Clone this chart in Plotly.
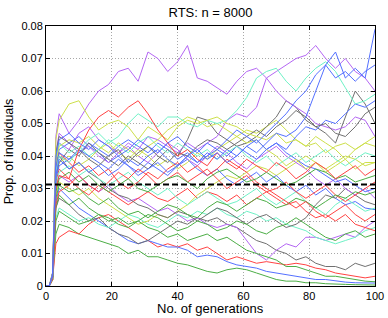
import plotly.graph_objects as go

# Generations sampled (x axis)
GENS = [0, 1, 2, 3] + list(range(4, 101, 3))

# Proportion of individuals per type
P1 = [0,0,0.003,0.046, 0.053,0.047,0.051,0.056,0.060,0.062,0.066,0.067,0.063,0.072,0.070,0.066,0.069,0.074,0.064,0.063,0.061,0.059,0.063,0.066,0.067,0.064,0.066,0.068,0.070,0.071,0.074,0.070,0.067,0.070,0.066,0.064,0.060]
P2 = [0,0,0.003,0.039, 0.044,0.042,0.047,0.049,0.045,0.043,0.041,0.044,0.042,0.046,0.045,0.043,0.041,0.044,0.042,0.044,0.046,0.051,0.053,0.052,0.055,0.064,0.060,0.057,0.055,0.053,0.050,0.049,0.048,0.049,0.052,0.051,0.046]
P3 = [0,0,0.002,0.030, 0.034,0.032,0.034,0.031,0.029,0.031,0.028,0.026,0.027,0.025,0.023,0.024,0.022,0.020,0.021,0.019,0.018,0.019,0.018,0.014,0.010,0.008,0.011,0.013,0.012,0.015,0.015,0.014,0.015,0.016,0.015,0.018,0.020]
P4 = [0,0,0.003,0.041, 0.047,0.044,0.041,0.043,0.040,0.038,0.041,0.043,0.040,0.038,0.041,0.044,0.042,0.039,0.037,0.040,0.043,0.041,0.038,0.036,0.039,0.041,0.043,0.040,0.038,0.036,0.033,0.031,0.033,0.030,0.028,0.030,0.027]
B1 = [0,0,0.003,0.034, 0.039,0.036,0.038,0.035,0.037,0.034,0.036,0.039,0.037,0.040,0.042,0.039,0.037,0.040,0.042,0.039,0.041,0.038,0.040,0.043,0.041,0.044,0.047,0.046,0.048,0.052,0.060,0.068,0.072,0.064,0.067,0.064,0.079]
B2 = [0,0,0.004,0.040, 0.045,0.047,0.044,0.042,0.045,0.043,0.040,0.042,0.045,0.043,0.041,0.044,0.046,0.043,0.041,0.044,0.042,0.045,0.048,0.046,0.044,0.047,0.050,0.053,0.057,0.060,0.065,0.068,0.064,0.066,0.063,0.066,0.068]
B3 = [0,0,0.003,0.036, 0.041,0.039,0.042,0.040,0.038,0.036,0.039,0.037,0.034,0.036,0.038,0.035,0.037,0.040,0.038,0.041,0.039,0.042,0.040,0.043,0.045,0.042,0.044,0.042,0.046,0.049,0.048,0.051,0.050,0.053,0.056,0.055,0.057]
B4 = [0,0,0.002,0.026, 0.030,0.027,0.024,0.022,0.020,0.018,0.016,0.014,0.013,0.014,0.013,0.012,0.012,0.011,0.009,0.0095,0.009,0.0075,0.0065,0.006,0.0055,0.0045,0.004,0.0035,0.003,0.0025,0.002,0.002,0.0015,0.0012,0.001,0.001,0.0009]
B5 = [0,0,0.003,0.037, 0.042,0.044,0.046,0.043,0.041,0.038,0.040,0.037,0.035,0.038,0.036,0.034,0.037,0.039,0.036,0.034,0.036,0.033,0.031,0.033,0.035,0.032,0.034,0.031,0.029,0.031,0.028,0.030,0.027,0.025,0.026,0.024,0.0235]
B6 = [0,0,0.003,0.033, 0.037,0.039,0.041,0.044,0.042,0.040,0.043,0.045,0.043,0.041,0.044,0.042,0.039,0.041,0.038,0.040,0.042,0.040,0.043,0.041,0.039,0.042,0.044,0.041,0.039,0.037,0.036,0.034,0.032,0.033,0.031,0.029,0.030]
A1 = [0,0,0.003,0.035, 0.040,0.038,0.042,0.045,0.047,0.044,0.046,0.050,0.053,0.051,0.049,0.052,0.052,0.050,0.049,0.051,0.050,0.051,0.054,0.058,0.064,0.066,0.067,0.063,0.060,0.064,0.067,0.069,0.066,0.061,0.056,0.057,0.059]
A2 = [0,0,0.002,0.021, 0.024,0.022,0.020,0.021,0.019,0.018,0.020,0.022,0.021,0.019,0.018,0.020,0.022,0.021,0.023,0.022,0.024,0.022,0.021,0.023,0.022,0.020,0.021,0.019,0.018,0.017,0.015,0.014,0.013,0.014,0.015,0.017,0.018]
A3 = [0,0,0.003,0.031, 0.035,0.037,0.034,0.036,0.033,0.031,0.033,0.035,0.032,0.030,0.028,0.030,0.027,0.025,0.027,0.029,0.027,0.025,0.026,0.028,0.030,0.027,0.025,0.027,0.029,0.026,0.024,0.022,0.025,0.027,0.025,0.023,0.024]
A4 = [0,0,0.004,0.039, 0.044,0.041,0.043,0.040,0.042,0.045,0.043,0.041,0.044,0.046,0.043,0.041,0.044,0.042,0.040,0.042,0.039,0.041,0.043,0.040,0.038,0.040,0.037,0.039,0.041,0.038,0.040,0.042,0.039,0.037,0.039,0.041,0.040]
R1 = [0,0,0.003,0.030, 0.034,0.033,0.042,0.048,0.052,0.054,0.052,0.055,0.057,0.053,0.048,0.044,0.040,0.042,0.039,0.037,0.041,0.038,0.036,0.039,0.037,0.035,0.038,0.036,0.033,0.035,0.038,0.036,0.033,0.035,0.037,0.034,0.036]
R2 = [0,0,0.002,0.013, 0.015,0.017,0.016,0.019,0.021,0.022,0.020,0.018,0.016,0.014,0.012,0.013,0.012,0.013,0.011,0.012,0.010,0.008,0.009,0.008,0.007,0.0075,0.007,0.0065,0.007,0.0065,0.0055,0.005,0.004,0.0035,0.003,0.0025,0.003]
R3 = [0,0,0.003,0.032, 0.036,0.033,0.030,0.028,0.031,0.029,0.027,0.025,0.027,0.029,0.027,0.026,0.028,0.030,0.027,0.029,0.028,0.026,0.028,0.025,0.027,0.029,0.027,0.025,0.026,0.023,0.021,0.022,0.020,0.022,0.019,0.018,0.017]
R4 = [0,0,0.002,0.025, 0.029,0.031,0.034,0.031,0.029,0.032,0.035,0.033,0.036,0.034,0.031,0.033,0.035,0.032,0.034,0.036,0.033,0.030,0.032,0.034,0.031,0.029,0.030,0.032,0.029,0.027,0.029,0.031,0.028,0.026,0.028,0.030,0.032]
R5 = [0,0,0.004,0.036, 0.041,0.038,0.035,0.037,0.034,0.036,0.032,0.030,0.032,0.035,0.033,0.036,0.038,0.035,0.037,0.034,0.036,0.039,0.037,0.035,0.032,0.030,0.028,0.026,0.024,0.026,0.023,0.021,0.023,0.025,0.022,0.020,0.022]
Y1 = [0,0,0.004,0.045, 0.051,0.056,0.057,0.052,0.048,0.050,0.051,0.049,0.045,0.049,0.047,0.045,0.049,0.051,0.050,0.051,0.052,0.050,0.049,0.047,0.046,0.045,0.047,0.044,0.045,0.043,0.044,0.041,0.043,0.044,0.042,0.044,0.043]
Y2 = [0,0,0.003,0.038, 0.043,0.045,0.044,0.046,0.043,0.041,0.044,0.042,0.040,0.043,0.045,0.048,0.050,0.052,0.051,0.049,0.050,0.048,0.046,0.044,0.045,0.042,0.040,0.037,0.039,0.036,0.038,0.035,0.037,0.039,0.036,0.038,0.038]
Y3 = [0,0,0.002,0.028, 0.032,0.030,0.028,0.030,0.027,0.025,0.023,0.021,0.019,0.020,0.022,0.021,0.023,0.025,0.028,0.030,0.032,0.034,0.033,0.035,0.037,0.036,0.034,0.036,0.038,0.040,0.038,0.036,0.038,0.040,0.039,0.037,0.038]
Y4 = [0,0,0.003,0.034, 0.038,0.040,0.037,0.039,0.042,0.044,0.041,0.039,0.042,0.040,0.037,0.039,0.036,0.038,0.041,0.039,0.042,0.044,0.046,0.048,0.047,0.049,0.051,0.048,0.045,0.043,0.046,0.044,0.042,0.039,0.042,0.044,0.046]
K1 = [0,0,0.003,0.034, 0.038,0.042,0.040,0.044,0.041,0.039,0.037,0.040,0.038,0.036,0.039,0.042,0.040,0.045,0.052,0.051,0.047,0.045,0.043,0.044,0.046,0.049,0.052,0.057,0.055,0.051,0.049,0.047,0.044,0.052,0.060,0.056,0.050]
K2 = [0,0,0.004,0.041, 0.046,0.044,0.042,0.039,0.037,0.040,0.042,0.038,0.041,0.043,0.040,0.038,0.041,0.040,0.043,0.045,0.044,0.042,0.044,0.046,0.048,0.046,0.049,0.051,0.054,0.052,0.049,0.050,0.047,0.046,0.049,0.053,0.055]
K3 = [0,0,0.002,0.024, 0.027,0.025,0.022,0.020,0.021,0.018,0.016,0.015,0.013,0.014,0.016,0.018,0.020,0.019,0.021,0.020,0.021,0.019,0.018,0.016,0.014,0.013,0.011,0.010,0.008,0.009,0.007,0.006,0.006,0.005,0.007,0.006,0.007]
K4 = [0,0,0.003,0.035, 0.040,0.036,0.038,0.035,0.033,0.030,0.028,0.027,0.025,0.024,0.022,0.021,0.023,0.022,0.020,0.022,0.024,0.023,0.021,0.019,0.021,0.022,0.020,0.018,0.019,0.021,0.025,0.028,0.027,0.030,0.028,0.026,0.025]
G1 = [0,0,0.002,0.016, 0.019,0.018,0.016,0.015,0.014,0.013,0.012,0.010,0.011,0.009,0.009,0.008,0.007,0.0065,0.0055,0.0045,0.004,0.005,0.0055,0.005,0.004,0.003,0.002,0.0015,0.0015,0.001,0.001,0.0007,0.0005,0.0005,0.0004,0.0003,0.0003]
G2 = [0,0,0.002,0.020, 0.023,0.021,0.019,0.020,0.022,0.021,0.019,0.018,0.020,0.018,0.017,0.015,0.016,0.014,0.015,0.016,0.014,0.015,0.013,0.011,0.010,0.009,0.008,0.006,0.006,0.005,0.004,0.003,0.003,0.0025,0.002,0.0015,0.0013]
G3 = [0,0,0.002,0.024, 0.028,0.025,0.027,0.024,0.022,0.020,0.021,0.019,0.020,0.022,0.021,0.019,0.017,0.018,0.020,0.019,0.017,0.018,0.020,0.019,0.017,0.016,0.018,0.019,0.021,0.019,0.017,0.015,0.014,0.016,0.017,0.015,0.016]
G4 = [0,0,0.003,0.027, 0.031,0.029,0.030,0.027,0.025,0.027,0.024,0.022,0.023,0.021,0.023,0.025,0.024,0.022,0.021,0.024,0.026,0.025,0.023,0.025,0.027,0.026,0.024,0.025,0.027,0.026,0.024,0.026,0.028,0.027,0.029,0.028,0.029]
G5 = [0,0,0.003,0.029, 0.033,0.035,0.032,0.034,0.031,0.029,0.031,0.033,0.030,0.029,0.031,0.033,0.034,0.032,0.030,0.033,0.035,0.036,0.034,0.032,0.033,0.035,0.033,0.031,0.032,0.034,0.036,0.035,0.033,0.034,0.032,0.033,0.034]

EQUAL_SHARE = 1 / 32  # 1/n types

XTICKS = [0, 20, 40, 60, 80, 100]
YTICKS = [0, 0.01, 0.02, 0.03, 0.04, 0.05, 0.06, 0.07, 0.08]
YTICK_TEXT = ["0", "0.01", "0.02", "0.03", "0.04", "0.05", "0.06", "0.07", "0.08"]

PURPLE = "#b466f4"
BLUE = "#5470ff"
RED = "#ff4343"
GREEN = "#4cae46"
GRAY = "#707070"
YELLOW = "#cde04a"
AQUA = "#6ef2c6"

SERIES = [
    (G1, GREEN), (R2, RED), (B4, BLUE), (K3, GRAY), (P3, PURPLE), (A2, AQUA), (Y3, YELLOW),
    (G2, GREEN), (R3, RED), (B5, BLUE), (K4, GRAY), (P4, PURPLE), (A3, AQUA), (Y4, YELLOW),
    (G3, GREEN), (R4, RED), (B6, BLUE), (K1, GRAY), (P2, PURPLE), (A4, AQUA), (Y2, YELLOW),
    (G4, GREEN), (R5, RED), (B3, BLUE), (K2, GRAY), (P1, PURPLE), (A1, AQUA), (Y1, YELLOW),
    (G5, GREEN), (R1, RED), (B2, BLUE), (B1, BLUE),
]

FONT = "Liberation Sans, Arial, Helvetica, sans-serif"

fig = go.Figure()
for vals, col in SERIES:
    assert len(vals) == len(GENS)
    fig.add_trace(go.Scatter(x=GENS, y=vals, mode="lines",
                             line=dict(color=col, width=1), hoverinfo="skip"))

fig.add_trace(go.Scatter(x=[GENS[0], GENS[-1]], y=[EQUAL_SHARE, EQUAL_SHARE], mode="lines",
                         line=dict(color="black", width=2, dash="6px,3px"), hoverinfo="skip"))

axis_common = dict(
    showline=True, linecolor="black", linewidth=1, mirror="ticks",
    ticks="inside", ticklen=4, tickcolor="black", tickwidth=1,
    showgrid=True, gridcolor="#a8a8a8", gridwidth=1, griddash="1px,2px",
    zeroline=False, automargin=False,
    tickfont=dict(family=FONT, size=11, color="black"),
)

fig.update_layout(
    width=388, height=318,
    margin=dict(l=46, r=13, t=26, b=32, autoexpand=False),
    paper_bgcolor="white", plot_bgcolor="white",
    showlegend=False,
    font=dict(family=FONT, color="black"),
    title=dict(text="RTS: n = 8000", x=0.5, xref="paper", xanchor="center",
               y=1 - 12.5 / 318, yref="container", yanchor="middle",
               font=dict(family=FONT, size=13, color="black")),
    xaxis=dict(range=[0, 100], tickvals=XTICKS, **axis_common),
    yaxis=dict(range=[0, 0.08], tickvals=YTICKS, ticktext=YTICK_TEXT, **axis_common),
    annotations=[
        dict(text="No. of generations", xref="paper", yref="paper", x=0.5, y=-0.086,
             xanchor="center", yanchor="middle", showarrow=False,
             font=dict(family=FONT, size=13, color="black")),
        dict(text="Prop. of individuals", xref="paper", yref="paper", x=-0.114, y=0.52,
             xanchor="center", yanchor="middle", textangle=-90, showarrow=False,
             font=dict(family=FONT, size=12.5, color="black")),
    ],
)

fig.write_html(
    "out.html",
    config={"displayModeBar": False, "staticPlot": True},
    post_script="document.body.style.margin='0px';document.body.style.padding='0px';"
                "document.documentElement.style.overflow='hidden';",
)
